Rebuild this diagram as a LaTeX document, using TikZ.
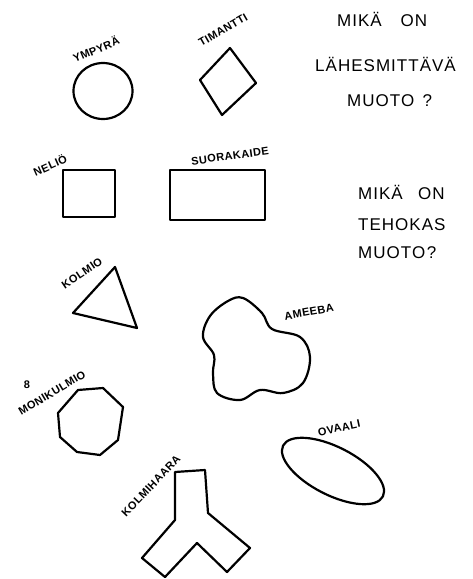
\documentclass[tikz,border=0pt]{standalone}
\usepackage{fontspec}
\setmainfont{Liberation Sans}
\usetikzlibrary{positioning}

\begin{document}
\begin{tikzpicture}[x=1pt, y=-1pt,
    muoto/.style={line width=2.2pt, line join=round, line cap=round},
    nimi/.style={font=\fontsize{11}{11}\selectfont\bfseries\addfontfeature{LetterSpace=4}, inner sep=0pt},
    kysymys/.style={font=\fontsize{17}{17}\selectfont\addfontfeature{LetterSpace=6}, inner sep=0pt, anchor=west}]
    \useasboundingbox (0,0) rectangle (473,579);
    % ympyra
    \draw[muoto] (103,91) ellipse [x radius=29.5, y radius=28];
    \node[nimi, rotate=23] (ympyra) at (96,49) {YMPYRÄ};
    % timantti
    \draw[muoto] (230,48) -- (256,83) -- (222,115) -- (200,80) -- cycle;
    \node[nimi, rotate=30] (timantti) at (223,30) {TIMANTTI};
    % kysymys 1
    \node[kysymys] (mika1) at (337,19) {MIKÄ\hspace{1.1em}ON};
    \node[kysymys] (lahes) at (315,64) {LÄHESMITTÄVÄ};
    \node[kysymys] (muoto1) at (347,101) {MUOTO\hspace{0.5em}?};
    % nelio
    \draw[muoto] (63,170) rectangle (115,217);
    \node[nimi, rotate=24] (nelio) at (50,165) {NELIÖ};
    % suorakaide
    \draw[muoto] (170,170) rectangle (265,220);
    \node[nimi, rotate=8] (suora) at (230,156) {SUORAKAIDE};
    % kysymys 2
    \node[kysymys] (mika2) at (358,192) {MIKÄ\hspace{0.9em}ON};
    \node[kysymys] (teho) at (358,225) {TEHOKAS};
    \node[kysymys] (muoto2) at (358,253) {MUOTO\hspace{0.1em}?};
    % kolmio
    \draw[muoto] (115,267) -- (137,328) -- (73,313) -- cycle;
    \node[nimi, rotate=34] (kolmio) at (82,273) {KOLMIO};
    % ameeba
    \draw[muoto] plot[smooth cycle, tension=0.6] coordinates {
      (243,298) (262,313) (272,329) (300,337) (310,357) (303,383)
      (283,393) (260,390) (240,400) (217,393) (213,373) (214,355)
      (203,337) (210,316) (228,301)};
    \node[nimi, rotate=10] (ameeba) at (309,312) {AMEEBA};
    % monikulmio
    \draw[muoto] (78,390) -- (103,388) -- (123,407) -- (118,440) -- (100,455)
      -- (77,452) -- (60,437) -- (58,413) -- cycle;
    \node[nimi] (kahdeksan) at (27,385) {8};
    \node[nimi, rotate=31] (moni) at (52,393) {MONIKULMIO};
    % ovaali
    \draw[muoto, rotate around={-27:(333,471)}] (333,471) ellipse [x radius=56, y radius=24];
    \node[nimi, rotate=12] (ovaali) at (339,428) {OVAALI};
    % kolmihaara
    \draw[muoto] (175,472) -- (205,470) -- (208,513) -- (250,548) -- (227,572)
      -- (197,543) -- (165,577) -- (142,558) -- (175,520) -- cycle;
    \node[nimi, rotate=46] (haara) at (151,486) {KOLMIHAARA};
\end{tikzpicture}
\end{document}
